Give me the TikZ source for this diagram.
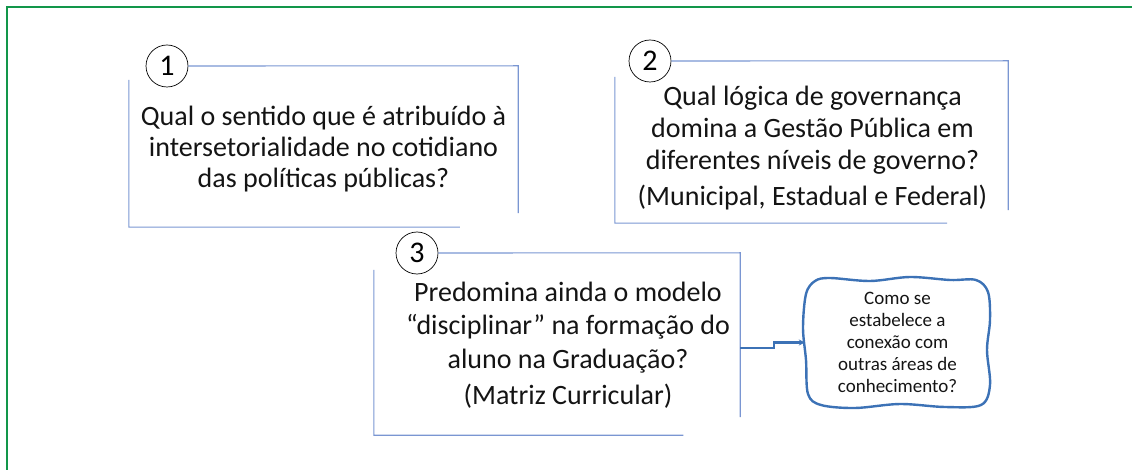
\documentclass[tikz,border=0pt]{standalone}
\usepackage{fontspec}
\setmainfont{Carlito}
\usetikzlibrary{arrows.meta,positioning,calc}
\definecolor{qxGreen}{HTML}{12964A}
\definecolor{qxRule} {HTML}{7A96D2}
\definecolor{qxBlue} {HTML}{3C72B6}
\definecolor{qxInk}  {HTML}{141414}

\begin{document}
\begin{tikzpicture}[x=1pt,y=-1pt,
    qframe/.style={inner sep=0pt},
    qtext/.style={inner sep=0pt,align=center,text=qxInk,
                 font=\fontsize{28}{31}\selectfont},
    qnum/.style={draw=black,circle,line width=0.7pt,minimum size=42pt,
                 inner sep=0pt,fill=white,font=\fontsize{30}{30}\selectfont},
    rule/.style={draw=qxRule,line width=1.1pt},
    followup/.style={inner sep=0pt,align=center,text=qxInk,
                 font=\fontsize{19}{21.8}\selectfont}]

  \useasboundingbox (0,0) rectangle (1132,470);
  \draw[qxGreen,line width=2.6pt] (7,470) -- (7,7) -- (1132,7);

  % question 1
  \node[qframe,minimum width=389pt,minimum height=161pt] (b1) at (323.5,146.5) {};
  \node[qtext] (q1) at ([yshift=-3pt]b1.center)
    {Qual o sentido que é atribuído à\\
     intersetorialidade no cotidiano\\
     das políticas públicas?};
  \node[qnum] (n1) at (167,66) {1};
  \draw[rule] (n1.east) -- (b1.north east) -- ([yshift=14pt]b1.south east);
  \draw[rule] ([yshift=-14pt]b1.north west) -- (b1.south west)
              -- ($(b1.south west)!0.85!(b1.south east)$);

  % question 2
  \node[qframe,minimum width=393pt,minimum height=162pt] (b2) at (811.5,142) {};
  \node[qtext,font=\fontsize{28}{32}\selectfont] (q2) at ([xshift=1pt,yshift=-6pt]b2.center)
    {Qual lógica de governança\\
     domina a Gestão Pública em\\
     diferentes níveis de governo?\\[4pt]
     (Municipal, Estadual e Federal)};
  \node[qnum] (n2) at (650,61) {2};
  \draw[rule] (n2.east) -- (b2.north east) -- ([yshift=13pt]b2.south east);
  \draw[rule] ([yshift=-16pt]b2.north west) -- (b2.south west)
              -- ($(b2.south west)!0.845!(b2.south east)$);

  % question 3
  \node[qframe,minimum width=366pt,minimum height=182pt] (b3) at (557,344) {};
  \node[qtext,font=\fontsize{28}{33.5}\selectfont] (q3) at ([xshift=11pt,yshift=-1pt]b3.center)
    {Predomina ainda o modelo\\
     “disciplinar” na formação do\\
     aluno na Graduação?\\[3pt]
     (Matriz Curricular)};
  \node[qnum] (n3) at (417,253) {3};
  \draw[rule] (n3.east) -- (b3.north east) -- ([yshift=18pt]b3.south east);
  \draw[rule] ([yshift=-17pt]b3.north west) -- (b3.south west)
              -- ($(b3.south west)!0.845!(b3.south east)$);

  % follow-up
  \node[followup,minimum width=185pt,minimum height=131pt] (c) at (897.5,342.5)
    {Como se\\estabelece a\\conexão com\\outras áreas de\\conhecimento?};
  \draw[qxBlue,line width=2.4pt,line join=round] plot[smooth cycle,tension=0.55] coordinates
    {(830,278) (870,281) (910,277) (950,280) (976,280) (988,292)
     (990,320) (987,350) (990,385) (981,405) (945,407) (900,404)
     (855,408) (821,405) (808,394) (806,360) (803,328) (806,294) (815,281)};
  \draw[qxBlue,line width=2.2pt,-{Stealth[length=6pt,width=6pt]}]
    ([yshift=-4pt]b3.east) -- ++(34,0) |- (c.west);
\end{tikzpicture}
\end{document}
